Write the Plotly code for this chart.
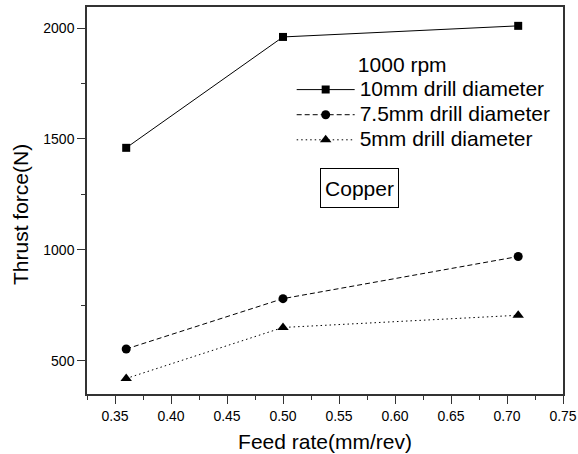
import plotly.graph_objects as go

feed_rate = [0.36, 0.50, 0.71]
d10 = [1460, 1960, 2010]
d75 = [553, 780, 970]
d5 = [420, 650, 705]
series_names = ["10mm drill diameter", "7.5mm drill diameter", "5mm drill diameter"]
x_ticks = [0.35, 0.40, 0.45, 0.50, 0.55, 0.60, 0.65, 0.70, 0.75]
y_ticks = [500, 1000, 1500, 2000]

FONT = "Arial, Liberation Sans, sans-serif"


def big(t):
    return f"<span style='font-size:21px'>{t}</span>"


fig = go.Figure()
fig.add_trace(go.Scatter(x=feed_rate, y=d10, mode="lines+markers", name=big(series_names[0]),
                         line=dict(color="black", width=1),
                         marker=dict(symbol="square", size=8, color="black")))
fig.add_trace(go.Scatter(x=feed_rate, y=d75, mode="lines+markers", name=big(series_names[1]),
                         line=dict(color="black", width=1, dash="5px,3px"),
                         marker=dict(symbol="circle", size=9, color="black")))
fig.add_trace(go.Scatter(x=feed_rate, y=d5, mode="lines+markers", name=big(series_names[2]),
                         line=dict(color="black", width=1, dash="1.5px,3px"),
                         marker=dict(symbol="triangle-up", size=10, color="black")))

fig.add_annotation(x=0.568, y=1280, xref="x", yref="y", text="Copper", showarrow=False,
                   font=dict(family=FONT, size=21, color="black"),
                   width=71, height=32,
                   bordercolor="black", borderwidth=1, borderpad=3, bgcolor="white")
fig.add_annotation(x=-0.1408, y=0.465, xref="paper", yref="paper", text="Thrust force(N)",
                   showarrow=False, textangle=-90, xanchor="center", yanchor="middle",
                   font=dict(family=FONT, size=21, color="black"))

axis_common = dict(showline=True, linecolor="#333", linewidth=1.5, mirror=True,
                   ticks="outside", ticklen=8, tickwidth=1.2, tickcolor="#333",
                   showgrid=False, zeroline=False, automargin=False,
                   tickfont=dict(family=FONT, size=14, color="black"),
                   title_font=dict(family=FONT, size=21, color="black"))

fig.update_xaxes(range=[0.325, 0.75], tickvals=x_ticks,
                 ticktext=[f"{v:.2f}" for v in x_ticks],
                 minor=dict(ticks="outside", ticklen=4, dtick=0.025, tick0=0.325, tickcolor="#333"),
                 title_text="Feed rate(mm/rev)", title_standoff=12, **axis_common)
fig.update_yaxes(range=[350, 2095], tickvals=y_ticks,
                 minor=dict(ticks="outside", ticklen=4, dtick=250, tick0=250, tickcolor="#333"),
                 **axis_common)

fig.update_layout(
    width=578, height=454,
    margin=dict(l=87, r=15, t=7, b=60),
    paper_bgcolor="white", plot_bgcolor="white",
    font=dict(family=FONT, color="black"),
    legend=dict(x=0.43, y=0.889, xanchor="left", yanchor="top",
                bgcolor="rgba(0,0,0,0)", borderwidth=0,
                title=dict(text=big("           1000 rpm"), font=dict(family=FONT, size=17, color="black")),
                font=dict(family=FONT, size=17, color="black"),
                tracegroupgap=0, itemwidth=58),
)

fig.write_html("out.html")
